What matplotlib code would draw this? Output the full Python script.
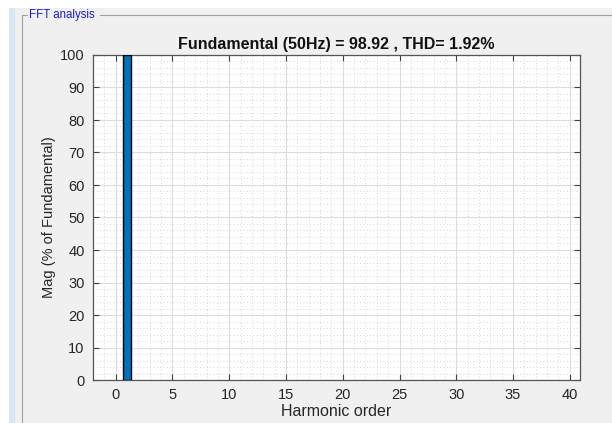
import numpy as np
import matplotlib.pyplot as plt
from matplotlib.ticker import MultipleLocator
from matplotlib.lines import Line2D
from matplotlib.patches import Rectangle

# Harmonic spectrum (% of fundamental) - only the fundamental is visible
harmonic_order = [1]
magnitude_pct = [100.0]

fund_hz = 50
fund_mag = 98.92
thd_pct = 1.92

xticks = [0, 5, 10, 15, 20, 25, 30, 35, 40]
yticks = [0, 10, 20, 30, 40, 50, 60, 70, 80, 90, 100]

plt.rcParams['font.family'] = ['Liberation Sans', 'DejaVu Sans']

fig = plt.figure(figsize=(6.12, 4.23), dpi=100, facecolor='#f0f0f0')

# window decoration: white top strip, blue left strip, panel frame
fig.patches.append(Rectangle((0, 1 - 8/423), 1, 8/423, transform=fig.transFigure,
                             facecolor='white', edgecolor='none', zorder=0))
fig.patches.append(Rectangle((0, 0), 9/612, 1, transform=fig.transFigure,
                             facecolor='white', edgecolor='none', zorder=0))
fig.patches.append(Rectangle((9/612, 0), 6/612, 1 - 8/423, transform=fig.transFigure,
                             facecolor='#d9e6f4', edgecolor='none', zorder=0))
frame_y = 1 - 15/423
frame_x = 22/612
fig.lines.append(Line2D([frame_x, frame_x], [0, frame_y], transform=fig.transFigure,
                        color='#a0a0a0', lw=0.8))
fig.lines.append(Line2D([frame_x, 27/612], [frame_y, frame_y], transform=fig.transFigure,
                        color='#a0a0a0', lw=0.8))
fig.lines.append(Line2D([100/612, 1], [frame_y, frame_y], transform=fig.transFigure,
                        color='#a0a0a0', lw=0.8))
fig.text(29/612, frame_y, 'FFT analysis', color='#1a1acc', fontsize=8.3,
         va='center', ha='left')

ax = fig.add_axes([93/612, 43/423, 487/612, 325/423])
ax.set_facecolor('white')

ax.bar(harmonic_order, magnitude_pct, width=0.65, color='#0072bd',
       edgecolor='black', linewidth=1.0, zorder=3)

ax.set_xlim(-2, 40.9)
ax.set_ylim(0, 100)
ax.set_xticks(xticks)
ax.set_yticks(yticks)
ax.xaxis.set_minor_locator(MultipleLocator(1))
ax.yaxis.set_minor_locator(MultipleLocator(2))

ax.grid(True, which='major', color='#dcdcdc', lw=0.8, zorder=0)
ax.grid(True, which='minor', color='#c8c8c8', lw=0.6, linestyle=(0, (1, 3)), zorder=0)
ax.set_axisbelow(True)

ax.tick_params(which='major', direction='in', length=4, width=0.8,
               top=True, right=True, colors='#404040', labelsize=10.5,
               labelcolor='#262626', pad=6)
ax.tick_params(which='minor', length=0, top=True, right=True)
for s in ax.spines.values():
    s.set_color('#555555')
    s.set_linewidth(0.9)

ax.set_title(f'Fundamental ({fund_hz}Hz) = {fund_mag} , THD= {thd_pct}%',
             fontsize=11.5, fontweight='bold', color='#111111', pad=4)
ax.set_xlabel('Harmonic order', fontsize=11.5, color='#262626', labelpad=1)
ax.set_ylabel('Mag (% of Fundamental)', fontsize=10.5, color='#262626', labelpad=3)

fig.savefig('out.png', dpi=100, facecolor=fig.get_facecolor())
